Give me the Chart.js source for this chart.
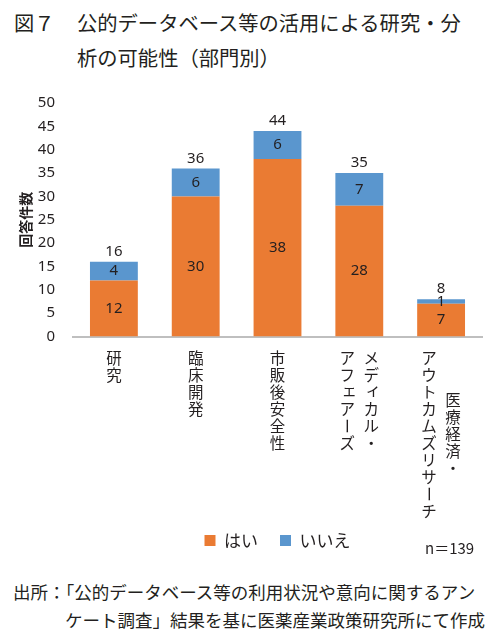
<!DOCTYPE html>
<html lang="ja">
<head>
<meta charset="utf-8">
<script src="https://cdn.jsdelivr.net/npm/chart.js@4/dist/chart.umd.min.js"></script>
<style>
  body { margin: 0; width: 500px; height: 640px; background: #fff; position: relative; overflow: hidden;
         font-family: 'Noto Sans CJK JP', sans-serif; color: #231f20; }
  .fig { position: absolute; left: 14px; top: 5px; font-size: 20.3px; line-height: 35px; }
  .title { position: absolute; left: 77px; top: 5px; font-size: 20.3px; line-height: 35px; white-space: nowrap; }
  .chartBox { position: absolute; left: 0; top: 85px; width: 500px; height: 480px; }
  .n { position: absolute; left: 425px; top: 537px; font-size: 15px; }
  .source { position: absolute; left: 13px; top: 578px; font-size: 17.5px; line-height: 28px; white-space: nowrap; }
  .source .l2 { padding-left: 52px; }
</style>
</head>
<body>
<div class="fig">図７</div>
<div class="title">公的データベース等の活用による研究・分<br>析の可能性（部門別）</div>
<div class="chartBox"><canvas id="chart"></canvas></div>
<div class="n">n＝139</div>
<div class="source">出所：「公的データベース等の利用状況や意向に関するアン<br><span class="l2">ケート調査」結果を基に医薬産業政策研究所にて作成</span></div>
<script>
// vertical labels: one string per column, first column is drawn on the right
const categories = ['研究', '臨床開発', '市販後安全性', ['メディカル・', 'アフェアーズ'], ['医療経済・', 'アウトカムズリサーチ']];
const yesCounts = [12, 30, 38, 28, 7];
const noCounts = [4, 6, 6, 7, 1];
const yTicks = { min: 0, max: 50, step: 5 };

const TEXT = '#231f20';
const CJK = "'Noto Sans CJK JP', sans-serif";
const SMALL_KANA = 'ァィゥェォッャュョ';

const valueLabels = {
  id: 'valueLabels',
  afterDatasetsDraw(chart) {
    const ctx = chart.ctx;
    const y = chart.scales.y;
    ctx.save();
    ctx.font = "15px 'Noto Sans', sans-serif";
    ctx.fillStyle = TEXT;
    ctx.textAlign = 'center';
    ctx.textBaseline = 'middle';
    chart.data.datasets.forEach((ds, di) => {
      chart.getDatasetMeta(di).data.forEach((bar, i) => {
        ctx.fillText(ds.data[i], bar.x, (bar.y + bar.base) / 2);
      });
    });
    chart.getDatasetMeta(0).data.forEach((bar, i) => {
      const total = yesCounts[i] + noCounts[i];
      ctx.fillText(total, bar.x, y.getPixelForValue(total) - 10);
    });
    ctx.restore();
  }
};

const verticalLabels = {
  id: 'verticalLabels',
  afterDraw(chart) {
    const ctx = chart.ctx;
    const xs = chart.scales.x;
    const pitch = 17;
    const top = chart.chartArea.bottom + 13;
    ctx.save();
    ctx.font = '15.5px ' + CJK;
    ctx.fillStyle = TEXT;
    ctx.textAlign = 'center';
    ctx.textBaseline = 'middle';
    categories.forEach((cat, i) => {
      const cols = Array.isArray(cat) ? cat : [cat];
      const cx = xs.getPixelForValue(i);
      const longest = Math.max(...cols.map(c => c.length));
      cols.forEach((col, j) => {
        const colX = cx + (cols.length - 1) * 12 - j * 24;
        const y0 = top + (longest - col.length) * pitch / 2;
        [...col].forEach((ch, k) => {
          const cy = y0 + k * pitch + pitch / 2;
          if (ch === 'ー') {
            ctx.save();
            ctx.translate(colX, cy);
            ctx.rotate(Math.PI / 2);
            ctx.fillText(ch, 0, 0);
            ctx.restore();
          } else if (SMALL_KANA.includes(ch)) {
            ctx.fillText(ch, colX + 2, cy - 2);
          } else {
            ctx.fillText(ch, colX, cy);
          }
        });
      });
    });
    ctx.restore();
  }
};

new Chart(document.getElementById('chart'), {
  type: 'bar',
  data: {
    labels: categories,
    datasets: [
      { label: 'はい', data: yesCounts, backgroundColor: '#EA7B33', categoryPercentage: 1, barPercentage: 0.585 },
      { label: 'いいえ', data: noCounts, backgroundColor: '#5A96CE', categoryPercentage: 1, barPercentage: 0.585 }
    ]
  },
  options: {
    responsive: true,
    maintainAspectRatio: false,
    animation: false,
    layout: { padding: { top: 18, right: 18, left: 0, bottom: 6 } },
    plugins: {
      tooltip: { enabled: false },
      legend: {
        position: 'bottom',
        fullSize: false,
        labels: {
          boxWidth: 11,
          boxHeight: 11,
          padding: 22,
          color: TEXT,
          font: { family: CJK, size: 17 }
        }
      }
    },
    scales: {
      x: {
        stacked: true,
        grid: { display: false, drawTicks: false },
        border: { display: true, color: '#bfbfbf', width: 2 },
        ticks: { display: false },
        afterFit(scale) { scale.height = 173.5; }
      },
      y: {
        stacked: true,
        min: yTicks.min,
        max: yTicks.max,
        // invisible tick marks keep the labels away from the plot without extra top padding
        grid: { display: false, drawTicks: true, tickLength: 16 },
        border: { display: false },
        ticks: {
          stepSize: yTicks.step,
          padding: 2,
          color: TEXT,
          font: { family: "'Noto Sans', sans-serif", size: 15 }
        },
        title: {
          display: true,
          text: '回答件数',
          color: TEXT,
          padding: { top: 17, bottom: 0 },
          font: { family: CJK, size: 14, weight: 'bold' }
        },
        afterFit(scale) { scale.width = 73; }
      }
    }
  },
  plugins: [valueLabels, verticalLabels]
});
</script>
</body>
</html>
